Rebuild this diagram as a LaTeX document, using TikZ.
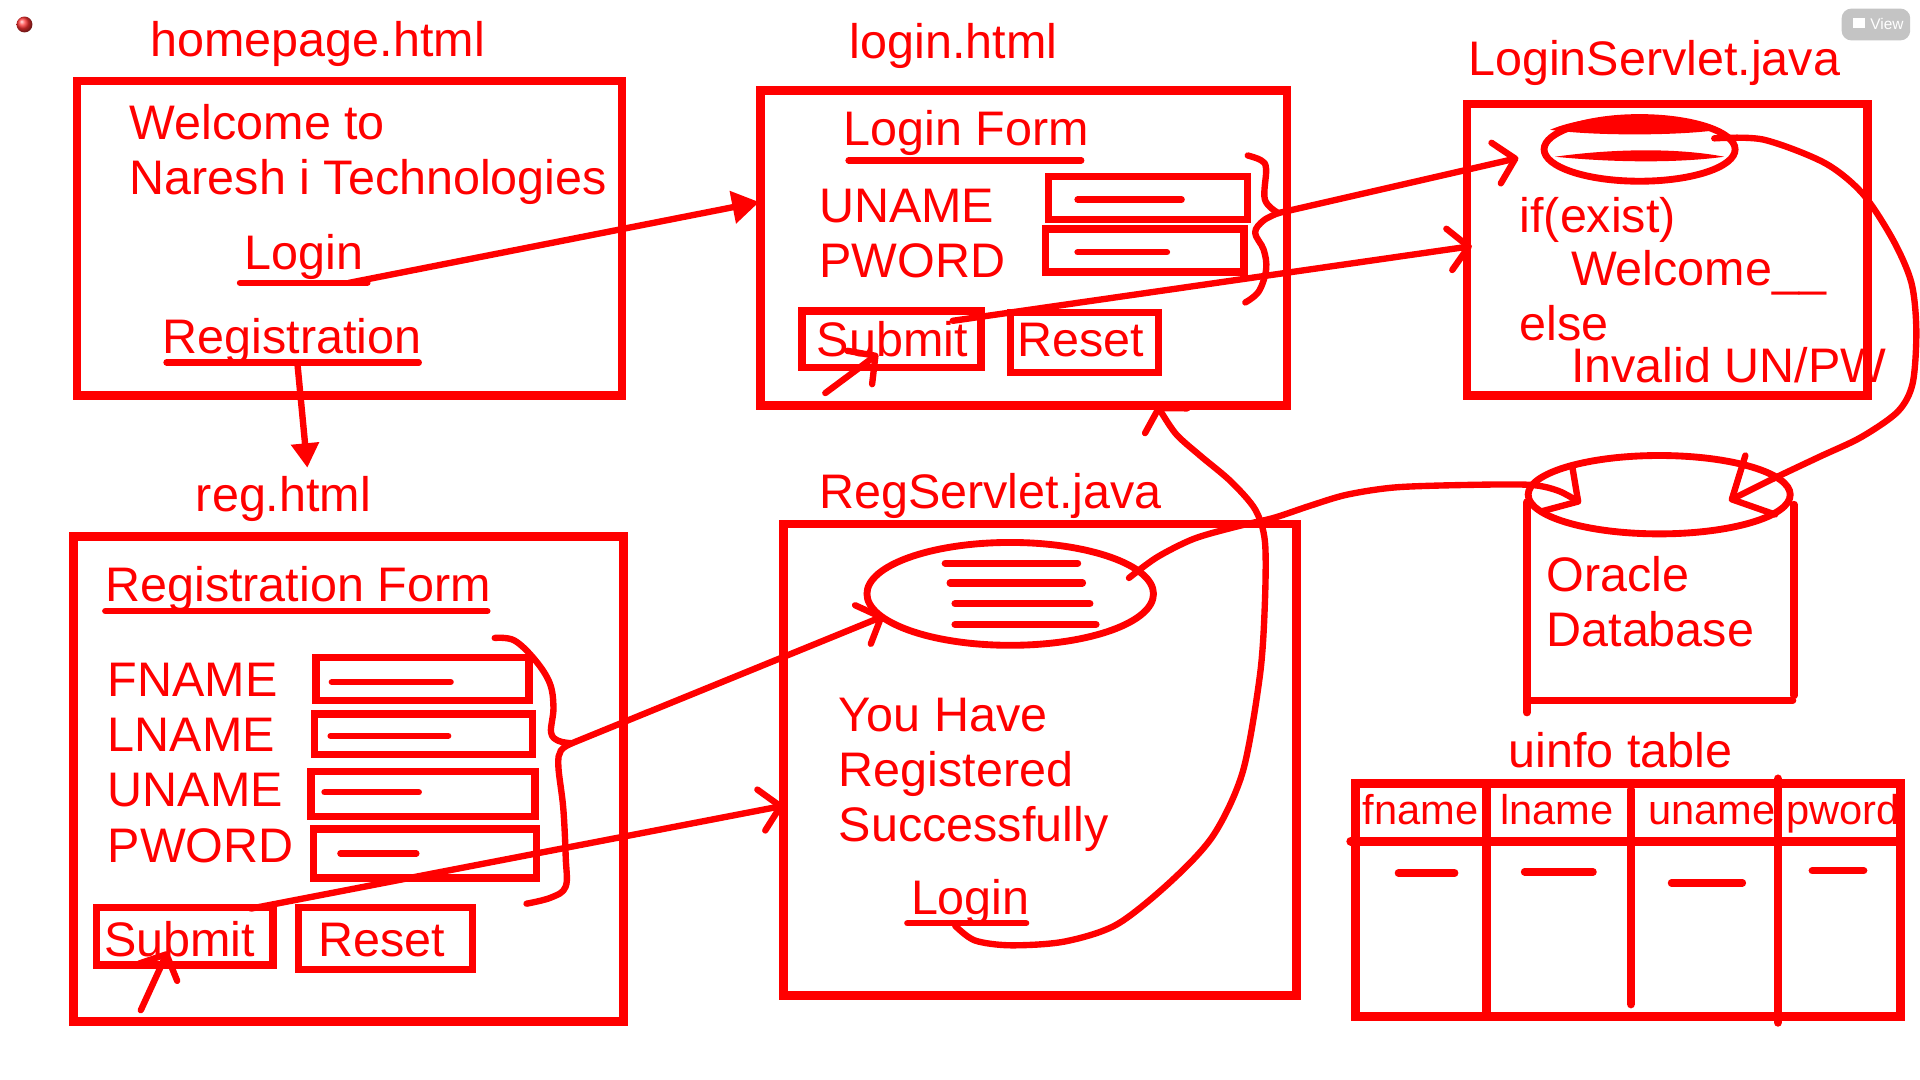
\documentclass[tikz,border=0pt]{standalone}
\usepackage{fontspec}
\setmainfont{Liberation Sans}
\usetikzlibrary{arrows.meta,fit,shapes.geometric,shadings}
\definecolor{pen}{RGB}{255,0,0}
\definecolor{btn}{RGB}{196,196,196}
\begin{document}
\begin{tikzpicture}[x=0.5pt,y=-0.5pt,
  box/.style={draw=pen, line width=3.5pt, inner sep=0pt, outer sep=0pt},
  fld/.style={draw=pen, line width=3pt, inner sep=0pt, outer sep=0pt},
  ul/.style={draw=pen, line width=2.6pt, line cap=round},
  conn/.style={draw=pen, line width=2.6pt, line cap=round, line join=round},
  txt/.style={anchor=base west, inner sep=0pt, outer sep=0pt, text=pen, font=\fontsize{19.8pt}{22pt}\selectfont},
  stxt/.style={anchor=base west, inner sep=0pt, outer sep=0pt, text=pen, font=\fontsize{17pt}{20pt}\selectfont},
  barb/.style={-{Straight Barb[length=8pt,width=17pt,line cap=round,line join=round]}},
  tri/.style={-{Triangle[length=11pt,width=13pt]}}
]
\useasboundingbox[fill=white] (0,0) rectangle (1568,882);

% window decorations
\shade[ball color=red!80!white] (20,20) circle (6.5);
\node[fill=btn, rounded corners=4pt, minimum width=28pt, minimum height=13pt, inner sep=0pt] (viewbtn) at (1532,20) {};
\fill[white] (1513,15) rectangle (1523,23);
\node[anchor=base west, inner sep=0pt, text=white, font=\fontsize{6.3pt}{8pt}\selectfont] (viewtxt) at (1527,24) {View};

% ---------------- homepage.html ----------------
\node[txt] (hpTitle) at (123,46) {homepage.html};
\node[box, fit={(63,66) (508,323)}] (hp) {};
\node[txt] (hpW1) at (106,114) {Welcome to};
\node[txt] (hpW2) at (106,159) {Naresh i Technologies};
\node[txt] (hpLogin) at (200,220) {Login};
\node[txt] (hpReg) at (133,289) {Registration};
\coordinate (hpLoginA) at (196,231);
\coordinate (hpLoginB) at (300,231);
\coordinate (hpRegA) at (136,296);
\coordinate (hpRegB) at (342,296);
\draw[ul] (hpLoginA) -- (hpLoginB);
\draw[ul] (hpRegA) -- (hpRegB);

% ---------------- login.html ----------------
\node[txt] (lgTitle) at (694,48) {login.html};
\node[box, fit={(621,74) (1051,331)}] (lg) {};
\node[txt] (lgForm) at (689,119) {Login Form};
\coordinate (lgFormA) at (693,131);
\coordinate (lgFormB) at (883,131);
\draw[ul] (lgFormA) -- (lgFormB);
\node[txt] (lgU) at (669,182) {UNAME};
\node[txt] (lgP) at (669,227) {PWORD};
\node[fld, fit={(856,144) (1019,179)}] (lgF1) {};
\node[fld, fit={(854,187) (1016,222)}] (lgF2) {};
\draw[ul] (880,163) -- (965,163);
\draw[ul] (880,206) -- (953,206);
\node[fld, fit={(655,254) (801,300)}] (lgSub) {};
\node[txt] (lgSubT) at (667,291) {Submit};
\node[fld, fit={(825,255) (946,304)}] (lgRes) {};
\node[txt] (lgResT) at (831,291) {Reset};
\coordinate (lgClickA) at (674,321);
\coordinate (lgClickB) at (717,289);
\draw[conn,barb] (lgClickA) -- (lgClickB);
\coordinate (lgBraceTip) at (1044,174);
\draw[conn] plot[smooth,tension=0.6] coordinates {(1019,127) (1030,131) (1034,138) (1033,163) (1044,174)};
\draw[conn] plot[smooth,tension=0.6] coordinates {(1044,174) (1032,180) (1025,190) (1032,204) (1034,220) (1028,238) (1017,247)};

% ---------------- LoginServlet.java ----------------
\node[txt] (lsTitle) at (1199,62) {LoginServlet.java};
\node[box, fit={(1198,85) (1525,323)}] (ls) {};
\node[ellipse, draw=pen, line width=2.8pt, minimum width=78pt, minimum height=26pt, inner sep=0pt] (lsEll) at (1339,122) {};
\fill[pen] (1266,106) .. controls (1300,91) and (1370,91) .. (1404,106) .. controls (1370,111) and (1300,111) .. cycle;
\fill[pen] (1270,128) .. controls (1320,121) and (1372,121) .. (1408,128) .. controls (1372,133) and (1320,133) .. cycle;
\node[txt] (lsIf) at (1241,190) {if(exist)};
\node[txt] (lsWel) at (1283,233) {Welcome\_\_};
\node[txt] (lsElse) at (1241,278) {else};
\node[txt] (lsInv) at (1283,312) {Invalid UN/PW};

% ---------------- reg.html ----------------
\node[txt] (rgTitle) at (160,418) {reg.html};
\node[box, fit={(60,438) (509,834)}] (rg) {};
\node[txt] (rgForm) at (86,491) {Registration Form};
\coordinate (rgFormA) at (86,499);
\coordinate (rgFormB) at (398,499);
\draw[ul] (rgFormA) -- (rgFormB);
\node[txt] (rgFN) at (88,569) {FNAME};
\node[txt] (rgLN) at (88,614) {LNAME};
\node[txt] (rgUN) at (88,659) {UNAME};
\node[txt] (rgPW) at (88,704) {PWORD};
\node[fld, fit={(258,537) (432,572)}] (rgF1) {};
\node[fld, fit={(257,583) (435,616)}] (rgF2) {};
\node[fld, fit={(254,630) (437,667)}] (rgF3) {};
\node[fld, fit={(256,677) (438,717)}] (rgF4) {};
\draw[ul] (271,557) -- (368,557);
\draw[ul] (270,601) -- (366,601);
\draw[ul] (265,647) -- (342,647);
\draw[ul] (278,697) -- (340,697);
\node[fld, fit={(79,741) (223,788)}] (rgSub) {};
\node[txt] (rgSubT) at (85,781) {Submit};
\node[fld, fit={(244,741) (386,792)}] (rgRes) {};
\node[txt] (rgResT) at (260,781) {Reset};
\coordinate (rgClickA) at (115,825);
\coordinate (rgClickB) at (137,777);
\draw[conn,barb] (rgClickA) -- (rgClickB);
\coordinate (rgBraceTip) at (467,607);
\draw[conn] plot[smooth,tension=0.6] coordinates {(404,521) (420,523) (437,539) (449,558) (452,578) (450,598) (456,605) (467,607)};
\draw[conn] plot[smooth,tension=0.6] coordinates {(467,607) (458,613) (456,626) (460,660) (462,700) (462,724) (450,733) (430,738)};

% ---------------- RegServlet.java ----------------
\node[txt] (rsTitle) at (669,415) {RegServlet.java};
\node[box, fit={(640,428) (1059,813)}] (rs) {};
\node[ellipse, draw=pen, line width=2.8pt, minimum width=117pt, minimum height=42pt, inner sep=0pt] (rsEll) at (825,485) {};
\draw[ul, line width=3pt] (772,460) -- (880,460);
\draw[ul, line width=3pt] (776,476) -- (884,476);
\draw[ul, line width=3pt] (780,493) -- (890,493);
\draw[ul, line width=3pt] (780,510) -- (895,510);
\node[txt] (rsY1) at (685,597) {You Have};
\node[txt] (rsY2) at (685,642) {Registered};
\node[txt] (rsY3) at (685,687) {Successfully};
\node[txt] (rsLogin) at (744,747) {Login};
\coordinate (rsLoginA) at (741,754);
\coordinate (rsLoginB) at (838,754);
\draw[ul] (rsLoginA) -- (rsLoginB);

% ---------------- Oracle Database ----------------
\node[ellipse, draw=pen, line width=2.8pt, minimum width=107pt, minimum height=32pt, inner sep=0pt] (dbTop) at (1355,404) {};
\coordinate (dbL1) at (1247,410);
\coordinate (dbL2) at (1247,582);
\coordinate (dbR1) at (1465,412);
\coordinate (dbR2) at (1465,568);
\coordinate (dbB1) at (1247,572);
\coordinate (dbB2) at (1464,572);
\draw[ul, line width=3pt] (dbL1) -- (dbL2);
\draw[ul, line width=3pt] (dbR1) -- (dbR2);
\draw[ul, line width=3pt] (dbB1) -- (dbB2);
\node[txt] (dbT1) at (1263,483) {Oracle};
\node[txt] (dbT2) at (1263,528) {Database};

% ---------------- uinfo table ----------------
\node[txt] (tbTitle) at (1232,627) {uinfo table};
\node[box, fit={(1107,640) (1552,830)}] (tb) {};
\draw[ul, line width=3.5pt] (1103,687) -- (1552,687);
\draw[ul, line width=3.5pt] (1214,640) -- (1214,830);
\draw[ul, line width=3.5pt] (1332,645) -- (1332,820);
\draw[ul, line width=3.5pt] (1452,636) -- (1452,835);
\node[stxt] (tbH1) at (1113,673) {fname};
\node[stxt] (tbH2) at (1225,673) {lname};
\node[stxt] (tbH3) at (1346,673) {uname};
\node[stxt] (tbH4) at (1459,673) {pword};
\draw[ul, line width=3pt] (1142,713) -- (1188,713);
\draw[ul, line width=3pt] (1245,712) -- (1301,712);
\draw[ul, line width=3pt] (1365,721) -- (1423,721);
\draw[ul, line width=3pt] (1480,711) -- (1522,711);

% ---------------- connectors ----------------
\coordinate (hpLoginS) at (285,231);
\coordinate (lgIn) at (620,165);
\draw[conn,tri] (hpLoginS) -- (lgIn);
\coordinate (hpRegS) at (243,298);
\coordinate (rgIn) at (251,382);
\draw[conn,-{Triangle[length=10pt,width=11pt]}] (hpRegS) -- (rgIn);

\coordinate (lsEllIn) at (1240,129);
\draw[conn,barb] (lgBraceTip) -- (lsEllIn);
\coordinate (lgSubS) at (778,262);
\coordinate (lsIn) at (1202,201);
\draw[conn,barb] (lgSubS) -- (lsIn);

\coordinate (rsEllIn) at (722,503);
\draw[conn,barb] (rgBraceTip) -- (rsEllIn);
\coordinate (rgSubS) at (205,742);
\coordinate (rsIn) at (640,658);
\draw[conn,barb] (rgSubS) -- (rsIn);

% RegServlet -> Database
\coordinate (rsEllOut) at (922,472);
\coordinate (dbInL) at (1291,411);
\draw[conn,-{Straight Barb[length=10pt,width=22pt,line cap=round,line join=round]}] plot[smooth,tension=0.5] coordinates {(rsEllOut) (945,455) (975,440) (1010,430) (1040,423) (1070,413) (1100,404) (1140,398) (1200,396) (1250,396) (1273,401) (dbInL)};

% LoginServlet -> Database
\coordinate (lsEllOut) at (1400,113);
\coordinate (dbInR) at (1412,409);
\draw[conn,-{Straight Barb[length=13pt,width=27pt,line cap=round,line join=round]}] plot[smooth,tension=0.5] coordinates {(lsEllOut) (1440,114) (1490,133) (1521,158) (1546,196) (1561,231) (1565,270) (1562,313) (1550,336) (1520,357) (1486,373) (1448,391) (dbInR)};

% RegServlet Login -> login.html
\coordinate (rsLoginS) at (780,756);
\coordinate (lgBottomIn) at (945,331);
\draw[conn,-{Straight Barb[length=6pt,width=20pt,line cap=round,line join=round]}] plot[smooth,tension=0.5] coordinates {(rsLoginS) (796,768) (825,772) (869,769) (912,755) (956,720) (991,682) (1015,630) (1029,551) (1033,492) (1033,442) (1025,416) (1005,393) (980,372) (960,354) (lgBottomIn)};

\end{tikzpicture}
\end{document}
